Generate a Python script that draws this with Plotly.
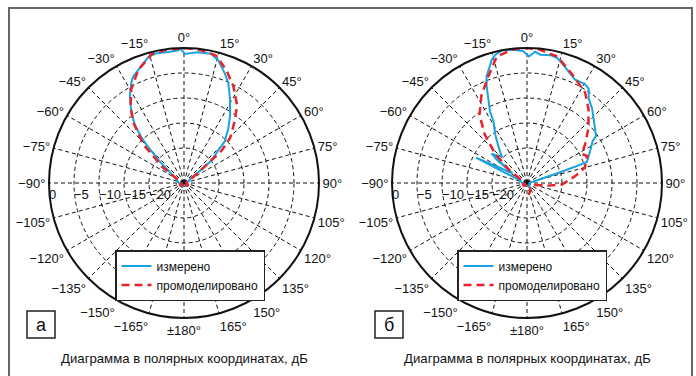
import plotly.graph_objects as go

W, H = 696, 376

# ---------------- data ----------------
ang_tickvals = list(range(0, 360, 15))
ang_ticktext = ["0°", "15°", "30°", "45°", "60°", "75°", "90°", "105°", "120°", "135°", "150°", "165°",
                "±180°", "\u2212165°", "\u2212150°", "\u2212135°", "\u2212120°", "\u2212105°", "\u221290°",
                "\u221275°", "\u221260°", "\u221245°", "\u221230°", "\u221215°"]

r_tickvals = [0, -5, -10, -15, -20]
r_ticktext = ["0", "\u22125", "\u221210", "\u221215", "\u221220"]

# plot а, measured
theta_a_meas = [-180, -150, -120, -90, -70, -60, -53.6, -48.3, -45.1, -43.2, -40.3, -36.6, -31.9, -27.8,
                -25.5, -22, -15.7, -12.4, -7.8, -3.3, -1.3, 0.4, 5.8, 11.8, 15.5, 20.4, 23.9, 28.8, 34.2,
                39, 44.3, 46.6, 50.5, 52.6, 56, 70, 90, 120, 150, 180]
r_a_meas = [-26.5, -26, -26.5, -26, -25.5, -25, -23.8, -20.3, -17, -14.7, -11.8, -9.3, -6.5, -4.4,
            -3.4, -2.6, -0.8, -0.5, -0.6, -0.5, -0.2, -1.2, -0.7, -0.6, -1.5, -3.6, -5.1, -7.9, -10.6,
            -12.9, -15.3, -17.7, -20, -22.8, -25.5, -26, -26.5, -26, -26.5, -26.5]

# plot а, simulated
theta_a_sim = [-180, -120, -90, -75, -60, -53.6, -46.5, -39.8, -34.6, -29.4, -22, -13.9, -7.7, 0,
               7.1, 14.1, 20.6, 27.1, 34.4, 39.5, 45.7, 49.4, 51, 57, 75, 90, 120, 180]
r_a_sim = [-26.5, -26, -26.5, -26.5, -25.5, -21.7, -15.8, -11.1, -8.2, -5.5, -2.6, -0.4, -0.1, 0,
           -0.2, -0.7, -2.9, -5.3, -8.2, -11.1, -14.1, -17.1, -21, -24.8, -26.5, -26.5, -26, -26.5]

# plot б, measured
theta_b_meas = [-180, -120, -90, -70, -63.6, -56, -52, -54, -50.7, -53, -50.5, -43.9, -38.5, -33.2,
                -28.6, -27.4, -24.7, -22.6, -20.8, -16, -14, -10.6, -6.2, -1.7, 0.9, 3.5, 6, 10.4,
                13.7, 17.8, 24.8, 30.5, 33.3, 36.2, 41.1, 47.4, 55.8, 57.4, 62.9, 70.6, 71.3, 72.3,
                73.5, 80, 90, 120, 150, 180]
r_b_meas = [-26.5, -26.5, -26, -25.5, -15.6, -23.5, -18.8, -21.8, -18.3, -21.6, -17.8, -19.8, -17.9, -15.4,
            -13, -10.9, -8.5, -6, -4.2, -1.4, -0.6, 0, -0.2, -0.6, -1.7, -0.7, -1.2, -1,
            -1.3, -2.5, -4.2, -4.1, -4.5, -6.1, -7.2, -8.8, -10.3, -11.4, -12.8, -14.3, -16.9, -20.6,
            -24.2, -26, -26.5, -26.5, -26, -26.5]

# plot б, simulated
theta_b_sim = [-180, -120, -90, -65, -54, -47.5, -41, -34.9, -27.6, -19.9, -13.4, -6, 0, 5.3, 13.6,
               21.9, 32.7, 39.6, 48.2, 56.2, 61.9, 65.9, 74.9, 81.4, 92, 97, 105, 130, 165, 180]
r_b_sim = [-26.5, -26, -26.5, -26, -22.6, -18.4, -14.1, -10.4, -7.3, -4.3, -1, -0.1, 0, -0.2, -1,
           -3.3, -5.5, -7.7, -10.5, -13, -14.6, -13.8, -15, -17.1, -19.9, -22.7, -25.5, -26, -25, -24]

names = ["измерено", "промоделировано"]
caption = "Диаграмма в полярных координатах, дБ"
panel_labels = ["а", "б"]

# ---------------- styling ----------------
BLUE = "#1aa3e0"
RED = "#e8232b"
FONT = "Liberation Sans, Arial, sans-serif"

centers = [(184, 183), (527, 183)]
R = 135

fig = go.Figure()

def add_pair(polar, legend, tm, rm, ts, rs):
    fig.add_trace(go.Scatterpolar(theta=tm, r=rm, mode="lines", name=names[0],
                                  line=dict(color=BLUE, width=2), subplot=polar, legend=legend))
    fig.add_trace(go.Scatterpolar(theta=ts, r=rs, mode="lines", name=names[1],
                                  line=dict(color=RED, width=2.5, dash="8px,5px"), subplot=polar, legend=legend))

add_pair("polar", "legend", theta_a_meas, r_a_meas, theta_a_sim, r_a_sim)
add_pair("polar2", "legend2", theta_b_meas, r_b_meas, theta_b_sim, r_b_sim)

def polar_layout(cx, cy):
    return dict(
        domain=dict(x=[(cx - R) / W, (cx + R) / W], y=[(H - cy - R) / H, (H - cy + R) / H]),
        bgcolor="white",
        radialaxis=dict(range=[-27, 0], tickvals=r_tickvals, ticktext=r_ticktext, angle=180, tickangle=180,
                        showline=False, ticks="", gridcolor="#111", griddash="4px,3px", gridwidth=1,
                        tickfont=dict(family=FONT, size=13, color="#111"), side="counterclockwise"),
        angularaxis=dict(rotation=90, direction="clockwise", tickvals=ang_tickvals, ticktext=ang_ticktext,
                         showline=True, linecolor="#111", linewidth=2, ticks="",
                         gridcolor="#111", griddash="4px,3px", gridwidth=1,
                         tickfont=dict(family=FONT, size=13, color="#111")),
    )

legend_common = dict(xanchor="left", yanchor="top", bgcolor="white", bordercolor="#222", borderwidth=1.5,
                     font=dict(family=FONT, size=12, color="#111"), tracegroupgap=0)

fig.update_layout(
    width=W, height=H, margin=dict(l=0, r=0, t=0, b=0),
    paper_bgcolor="white", showlegend=True,
    polar=polar_layout(*centers[0]),
    polar2=polar_layout(*centers[1]),
    legend=dict(x=115 / W, y=1 - 250 / H, **legend_common),
    legend2=dict(x=457 / W, y=1 - 250 / H, **legend_common),
)

shapes = [dict(type="rect", xref="paper", yref="paper", x0=9 / W, x1=692 / W, y0=-0.2, y1=1 - 8 / H,
               line=dict(color="#666", width=2))]
annotations = []
for (cx, cy), lab, bx in zip(centers, panel_labels, [27, 375]):
    shapes.append(dict(type="rect", xref="paper", yref="paper", x0=bx / W, x1=(bx + 28) / W,
                       y0=1 - 338 / H, y1=1 - 311 / H, line=dict(color="#222", width=1.5)))
    annotations.append(dict(x=(bx + 14) / W, y=1 - 324.5 / H, xref="paper", yref="paper", text=lab,
                            xanchor="center", yanchor="middle",
                            showarrow=False, font=dict(family=FONT, size=18, color="#111")))
    annotations.append(dict(x=cx / W, y=1 - 358 / H, xref="paper", yref="paper", text=caption,
                            xanchor="center", yanchor="middle",
                            showarrow=False, font=dict(family=FONT, size=13.2, color="#111")))

fig.update_layout(shapes=shapes, annotations=annotations)
fig.write_html("out.html", config={"displayModeBar": False},
               post_script="document.body.style.margin='0';document.body.style.overflow='hidden';")
